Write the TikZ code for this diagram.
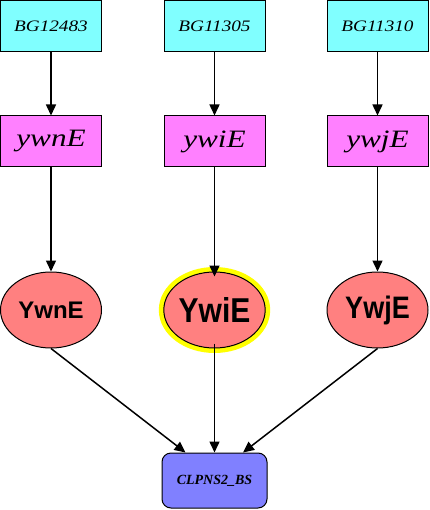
\documentclass[tikz,border=0pt]{standalone}
\usepackage{fontspec}
\setmainfont{Liberation Serif}
\setsansfont{Liberation Sans}
\usetikzlibrary{arrows.meta,shapes.geometric}
\definecolor{genecol}{HTML}{80FFFF}
\definecolor{namecol}{HTML}{FF80FF}
\definecolor{protcol}{HTML}{FF8080}
\definecolor{bscol}{HTML}{8080FF}
\definecolor{halocol}{HTML}{FFFF00}
\tikzset{
  genebox/.style={draw=black, fill=genecol, line width=1pt, minimum width=101pt, minimum height=51pt, inner sep=0pt,
    font=\fontsize{16}{18}\selectfont\itshape},
  namebox/.style={draw=black, fill=namecol, line width=1pt, minimum width=101pt, minimum height=51pt, inner sep=0pt,
    font=\fontsize{25}{27}\selectfont\itshape},
  protell/.style={ellipse, draw=black, fill=protcol, line width=1pt, minimum width=101pt, minimum height=76pt, inner sep=0pt,
    font=\sffamily\bfseries},
  bsbox/.style={draw=black, fill=bscol, rounded corners=9pt, line width=1pt, minimum width=105pt, minimum height=55pt, inner sep=0pt,
    font=\fontsize{14}{16}\selectfont\bfseries\itshape},
  arr/.style={-{Triangle[length=11pt,width=10pt]}, line width=1.5pt, black}
}
\begin{document}
\begin{tikzpicture}[x=1pt,y=-1pt]
\useasboundingbox (0,0) rectangle (429,510);
\node[genebox] (g1) at (51,26) {\scalebox{1.2}[1]{BG12483}};
\node[genebox] (g2) at (214.5,26) {\scalebox{1.2}[1]{BG11305}};
\node[genebox] (g3) at (377.5,26) {\scalebox{1.2}[1]{BG11310}};
\node[namebox] (n1) at (51,141.5) {\scalebox{1.25}[1]{ywnE}};
\node[namebox] (n2) at (214.5,141.5) {\scalebox{1.25}[1]{ywiE}};
\node[namebox] (n3) at (377.5,141.5) {\scalebox{1.25}[1]{ywjE}};
\node[protell] (p1) at (51,310) {\fontsize{24}{26}\selectfont YwnE};
\node[protell, preaction={draw=halocol, line width=10pt}] (p2) at (214.5,310) {\scalebox{1}[1.15]{\fontsize{30}{32}\selectfont YwiE}};
\node[protell] (p3) at (377.5,310) {\scalebox{1}[1.15]{\fontsize{27}{29}\selectfont YwjE}};
\node[bsbox] (bs) at (214.5,480.5) {CLPNS2\_BS};
\draw[arr] (g1) -- (n1);
\draw[arr] (g2) -- (n2);
\draw[arr] (g3) -- (n3);
\draw[arr] (n1) -- (p1);
\draw[arr] (n2) -- ([yshift=-5pt]p2.north);
\draw[arr] (n3) -- (p3);
\draw[arr] (p1.south) -- ([xshift=-29pt]bs.north);
\draw[arr] ([yshift=5pt]p2.south) -- (bs.north);
\draw[arr] (p3.south) -- ([xshift=28.5pt]bs.north);
\end{tikzpicture}
\end{document}
